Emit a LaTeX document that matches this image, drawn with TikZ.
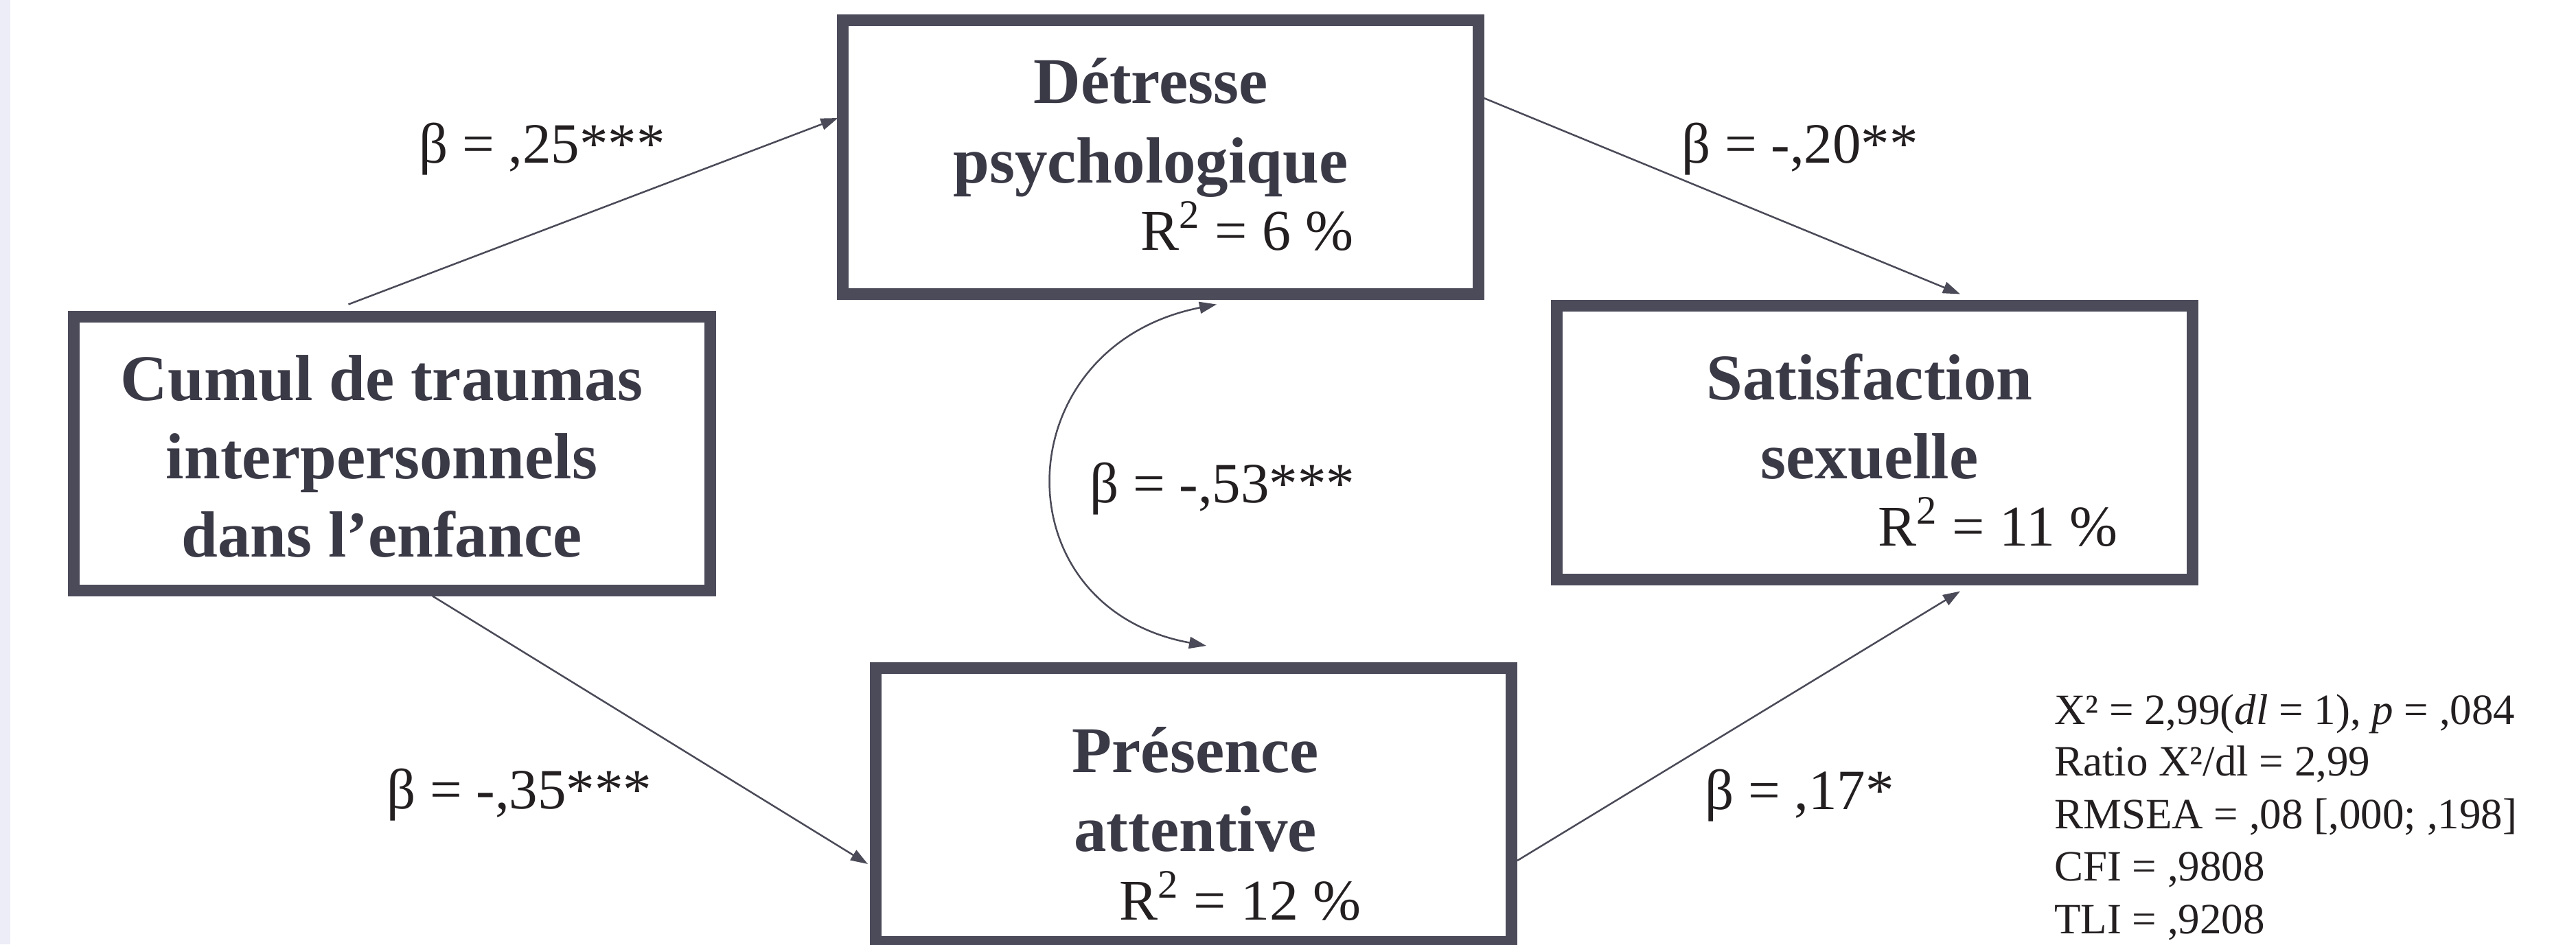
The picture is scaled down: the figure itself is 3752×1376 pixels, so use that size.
\documentclass[tikz,border=0pt]{standalone}
\usepackage{fontspec}
\setmainfont{Liberation Serif}
\usetikzlibrary{arrows.meta,calc}
\definecolor{boxline}{RGB}{76,75,90}
\definecolor{titletext}{RGB}{58,57,70}
\definecolor{valtext}{RGB}{35,31,32}
\definecolor{linkcol}{RGB}{74,74,88}
\definecolor{stripcol}{RGB}{237,237,247}
\begin{document}
\begin{tikzpicture}[x=0.2pt,y=-0.2pt,
  varbox/.style={draw=boxline, line width=3.4pt, fill=white, minimum width=185.2pt, minimum height=79.8pt, inner sep=0pt},
  vartitle/.style={font=\fontsize{19}{23}\selectfont\bfseries, text=titletext, anchor=base, inner sep=0pt},
  rsq/.style={font=\fontsize{16.8}{20}\selectfont, text=valtext, anchor=base west, inner sep=0pt},
  coef/.style={font=\fontsize{16.6}{20}\selectfont, text=valtext, anchor=base west, inner sep=0pt},
  fitstat/.style={font=\fontsize{12.6}{15}\selectfont, text=valtext, anchor=base west, inner sep=0pt},
  link/.style={draw=linkcol, line width=0.5pt, -{Triangle[length=5pt,width=3.4pt]}},
  dlink/.style={draw=linkcol, line width=0.5pt, {Triangle[length=5pt,width=3.4pt]}-{Triangle[length=5pt,width=3.4pt]}},
]
\useasboundingbox (0,0) rectangle (3752,1376);
\clip (0,0) rectangle (3752,1376);
\fill[white] (0,0) rectangle (3752,1376);
\fill[stripcol] (0,0) rectangle (15,1376);

% boxes
\node[varbox] (cumul) at (571,660.5) {};
\node[varbox] (detresse) at (1690,228.5) {};
\node[varbox] (satis) at (2730.5,644.5) {};
\node[varbox] (presence) at (1738.5,1173) {};

% box texts
\node[vartitle] (cumul1) at (556,583) {Cumul de traumas};
\node[vartitle] (cumul2) at (556,697) {interpersonnels};
\node[vartitle] (cumul3) at (556,811) {dans l’enfance};

\node[vartitle] (det1) at (1676,150) {Détresse};
\node[vartitle] (det2) at (1676,266) {psychologique};
\node[rsq] (detr) at (1660,364) {R\textsuperscript{2} = 6 \%};

\node[vartitle] (sat1) at (2723,582) {Satisfaction};
\node[vartitle] (sat2) at (2723,697) {sexuelle};
\node[rsq] (satr) at (2734,795) {R\textsuperscript{2} = 11 \%};

\node[vartitle] (pre1) at (1741,1125) {Présence};
\node[vartitle] (pre2) at (1741,1240) {attentive};
\node[rsq] (prer) at (1629,1340) {R\textsuperscript{2} = 12 \%};

% connectors
\draw[link] ($(cumul.north)+(-63.5,-9)$) -- ($(detresse.west)+(2,-56.5)$);
\draw[link] ($(detresse.east)+(0,-85.5)$) -- ($(satis.north)+(124.5,-8)$);
\draw[link] ($(cumul.south)+(59,0)$) -- ($(presence.west)+(-3,86)$);
\draw[link] ($(presence.east)+(0,81)$) -- ($(satis.south)+(124.5,9)$);

\coordinate (ptop) at ($(presence.north)+(18.5,-24)$);
\coordinate (dtop) at ($(detresse.south)+(82,7)$);
\draw[dlink] (ptop) .. controls ($(ptop)+(-304,-56)$) and ($(dtop)+(-309,61)$) .. (dtop);

% coefficients
\node[coef] (b1) at (609,237) {β = ,25***};
\node[coef] (b2) at (2448,237) {β = -,20**};
\node[coef] (b3) at (1586,732) {β = -,53***};
\node[coef] (b4) at (562,1178) {β = -,35***};
\node[coef] (b5) at (2482,1179) {β = ,17*};

% fit statistics
\node[fitstat] (f1) at (2991,1055) {X² = 2,99(\textit{dl} = 1), \textit{p} = ,084};
\node[fitstat] (f2) at (2991,1130) {Ratio X²/dl = 2,99};
\node[fitstat] (f3) at (2991,1207) {RMSEA = ,08 [,000; ,198]};
\node[fitstat] (f4) at (2991,1283) {CFI = ,9808};
\node[fitstat] (f5) at (2991,1360) {TLI = ,9208};
\end{tikzpicture}
\end{document}
